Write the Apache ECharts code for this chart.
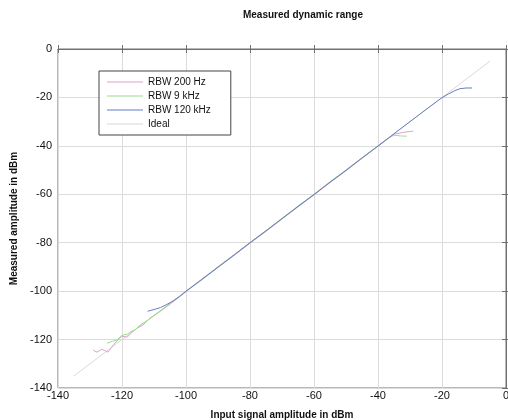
<!DOCTYPE html>
<html><head><meta charset="utf-8">
<script src="https://cdn.jsdelivr.net/npm/echarts@6/dist/echarts.min.js"></script>
<style>html,body{margin:0;padding:0;background:#fff}#c{width:508px;height:420px}</style>
</head><body><div id="c"></div>
<script>
const xTicks = [-140,-120,-100,-80,-60,-40,-20,0];
const yTicks = [0,-20,-40,-60,-80,-100,-120,-140];
const seriesNames = ['RBW 200 Hz','RBW 9 kHz','RBW 120 kHz','Ideal'];

const rbw200X = [-129,-127.8,-126.3,-124.4,-122.8,-121.2,-120,-118.4,-116.9,-115.3,-113.4,-111.3,-108,-105,-102,-99,-95,-90,-85,-80,-75,-70,-65,-60,-55,-50,-45,-40,-37,-35,-32,-29];
const rbw200Y = [-124.4,-125.2,-124,-125.2,-122.3,-120.2,-118.6,-119,-117,-115.3,-114,-111.2,-108.3,-105.4,-102.3,-99.2,-95.3,-90.2,-85.3,-80.2,-75.3,-70.2,-65.2,-60.3,-55.2,-50.3,-45.2,-40.1,-37.2,-35.2,-34.4,-33.9];

const rbw9kX = [-124.7,-123,-121.6,-120,-118.4,-117.5,-115.9,-114.4,-112,-109,-106,-103,-100,-95,-90,-85,-80,-75,-70,-65,-60,-55,-50,-45,-40,-37,-35,-33,-31];
const rbw9kY = [-121.5,-120.7,-120.2,-118.2,-117.8,-116.9,-116,-114,-112.1,-109.2,-106.1,-103.1,-100.1,-95.1,-89.9,-85,-79.9,-75,-69.9,-64.9,-60,-54.9,-50,-45,-39.9,-37,-35.6,-35.9,-36];

const rbw120kX = [-112,-110,-108,-106,-104,-102,-100,-95,-90,-85,-80,-75,-70,-65,-60,-55,-50,-45,-40,-35,-30,-25,-20,-18,-16,-14.4,-12.5,-10.6];
const rbw120kY = [-108.3,-107.6,-106.8,-105.5,-104,-102.2,-100,-95.1,-90.1,-85.1,-80,-75.1,-70.1,-65,-60.1,-55,-50.1,-45,-40.1,-35,-30,-25,-20.1,-18.6,-17.2,-16.4,-16.1,-16.1];

const idealX = [-135,-5];
const idealY = [-135,-5];

const colors = ['#e0a0d0','#98e088','#6a7cc4','#d8d8d8'];
const zip = (a,b) => a.map((v,i)=>[v,b[i]]);

const chart = echarts.init(document.getElementById('c'));
const axisLine = {show:true,lineStyle:{color:'#707070',width:1}};
const baseFont = 'Liberation Sans, Arial, sans-serif';
chart.setOption({
  animation:false,
  title:{text:'Measured dynamic range',left:298,top:5,textAlign:'center',
    textStyle:{fontFamily:baseFont,fontSize:10,fontWeight:'bold',color:'#111'}},
  grid:{left:58,right:2,top:49,bottom:32,outerBoundsMode:'none',containLabel:false,
    show:true,borderColor:'#707070',borderWidth:1},
  legend:{left:99,top:71,orient:'vertical',
    data:seriesNames,icon:'rect',
    backgroundColor:'#fff',borderColor:'#444',borderWidth:1,
    padding:[6,20,6,8],itemGap:4,itemWidth:36,itemHeight:1,
    textStyle:{fontFamily:baseFont,fontSize:10,color:'#111',padding:[0,0,0,0]}},
  xAxis:[{type:'value',min:-140,max:0,interval:20,position:'bottom',
    name:'Input signal amplitude in dBm',nameLocation:'middle',nameGap:22,
    nameTextStyle:{fontFamily:baseFont,fontSize:10,fontWeight:'bold',color:'#111'},
    axisLine:axisLine,axisTick:{show:true,inside:true,length:4,lineStyle:{color:'#707070'}},
    axisLabel:{fontFamily:baseFont,fontSize:11,color:'#111',margin:2,
      formatter:v=>xTicks.includes(v)?String(v):''},
    splitLine:{show:true,lineStyle:{color:'#dcdcdc',width:1}}},
   {type:'value',min:-140,max:0,interval:20,position:'top',
    axisLine:axisLine,axisTick:{show:true,inside:true,length:4,lineStyle:{color:'#707070'}},
    axisLabel:{show:false},splitLine:{show:false}}],
  yAxis:[{type:'value',min:-140,max:0,interval:20,position:'left',
    name:'Measured amplitude in dBm',nameLocation:'middle',nameGap:38,nameRotate:90,
    nameTextStyle:{fontFamily:baseFont,fontSize:10,fontWeight:'bold',color:'#111'},
    axisLine:axisLine,axisTick:{show:true,inside:true,length:4,lineStyle:{color:'#707070'}},
    axisLabel:{fontFamily:baseFont,fontSize:11,color:'#111',margin:6,
      formatter:v=>yTicks.includes(v)?String(v):''},
    splitLine:{show:true,lineStyle:{color:'#dcdcdc',width:1}}},
   {type:'value',min:-140,max:0,interval:20,position:'right',
    axisLine:axisLine,axisTick:{show:true,inside:true,length:4,lineStyle:{color:'#707070'}},
    axisLabel:{show:false},splitLine:{show:false}}],
  series:[
    {name:seriesNames[0],type:'line',data:zip(rbw200X,rbw200Y),symbol:'none',z:3,
      lineStyle:{color:colors[0],width:1},itemStyle:{color:colors[0]}},
    {name:seriesNames[1],type:'line',data:zip(rbw9kX,rbw9kY),symbol:'none',z:4,
      lineStyle:{color:colors[1],width:1},itemStyle:{color:colors[1]}},
    {name:seriesNames[2],type:'line',data:zip(rbw120kX,rbw120kY),symbol:'none',z:5,
      lineStyle:{color:colors[2],width:1},itemStyle:{color:colors[2]}},
    {name:seriesNames[3],type:'line',data:zip(idealX,idealY),symbol:'none',z:2,
      lineStyle:{color:colors[3],width:1},itemStyle:{color:colors[3]}}
  ]
});
</script></body></html>
